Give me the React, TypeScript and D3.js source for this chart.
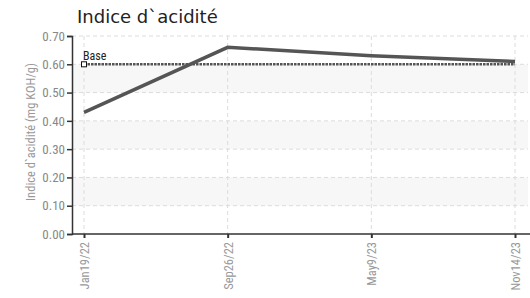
import React, { useEffect, useRef } from "react";
import * as d3 from "d3";

const categories = ["Jan19/22", "Sep26/22", "May9/23", "Nov14/23"];
const values = [0.43, 0.66, 0.63, 0.61];
const baseValue = 0.6;
const yTicks = [0, 0.1, 0.2, 0.3, 0.4, 0.5, 0.6, 0.7];
const bands = [
  [0.5, 0.6],
  [0.3, 0.4],
  [0.1, 0.2],
];

const width = 530;
const height = 298;
const margin = { top: 36, right: 0, bottom: 64, left: 72 };
const narrow = "'Liberation Sans Narrow', 'Roboto Condensed', Roboto, sans-serif";

const App = () => {
  const ref = useRef<SVGSVGElement>(null);

  useEffect(() => {
    const svg = d3.select(ref.current);
    svg.selectAll("*").remove();

    const x = d3
      .scalePoint()
      .domain(categories)
      .range([84, 515]);
    const y = d3
      .scaleLinear()
      .domain([0, 0.7])
      .range([height - margin.bottom, margin.top]);

    const plotRight = width - margin.right - 2;

    // bands
    svg
      .append("g")
      .selectAll("rect")
      .data(bands)
      .join("rect")
      .attr("x", margin.left)
      .attr("width", plotRight - margin.left)
      .attr("y", (d) => y(d[1]))
      .attr("height", (d) => y(d[0]) - y(d[1]))
      .attr("fill", "#f7f7f7");

    // horizontal grid
    svg
      .append("g")
      .selectAll("line")
      .data(yTicks.slice(1))
      .join("line")
      .attr("x1", margin.left)
      .attr("x2", plotRight)
      .attr("y1", (d) => y(d))
      .attr("y2", (d) => y(d))
      .attr("stroke", "#dcdcdc")
      .attr("stroke-dasharray", "4,3");

    // vertical grid
    svg
      .append("g")
      .selectAll("line")
      .data(categories)
      .join("line")
      .attr("x1", (d) => x(d)!)
      .attr("x2", (d) => x(d)!)
      .attr("y1", y(0.7))
      .attr("y2", y(0))
      .attr("stroke", "#dcdcdc")
      .attr("stroke-dasharray", "4,3");

    // base line
    svg
      .append("line")
      .attr("x1", x(categories[0])!)
      .attr("x2", x(categories[categories.length - 1])!)
      .attr("y1", y(baseValue))
      .attr("y2", y(baseValue))
      .attr("stroke", "#555")
      .attr("stroke-width", 2.5)
      .attr("stroke-dasharray", "2.5,1");
    svg
      .append("rect")
      .attr("x", x(categories[0])! - 2.5)
      .attr("y", y(baseValue) - 2.5)
      .attr("width", 5)
      .attr("height", 5)
      .attr("fill", "#fff")
      .attr("stroke", "#111")
      .attr("stroke-width", 1);
    svg
      .append("text")
      .attr("x", x(categories[0])! - 1)
      .attr("y", y(baseValue) - 4)
      .attr("font-family", narrow)
      .attr("font-size", 12)
      .attr("fill", "#222")
      .text("Base");

    // series line
    const line = d3
      .line<number>()
      .x((d, i) => x(categories[i])!)
      .y((d) => y(d));
    svg
      .append("path")
      .datum(values)
      .attr("d", line)
      .attr("fill", "none")
      .attr("stroke", "#555")
      .attr("stroke-width", 3.5);

    // y axis
    const yAxis = svg
      .append("g")
      .attr("transform", `translate(${margin.left},0)`)
      .call(
        d3
          .axisLeft(y)
          .tickValues(yTicks)
          .tickSize(5)
          .tickPadding(2)
          .tickFormat(d3.format(".2f"))
      );
    yAxis.select(".domain").attr("stroke", "#333").attr("stroke-width", 1.5);
    yAxis.selectAll(".tick line").attr("stroke", "#333").attr("stroke-width", 1.5);
    yAxis
      .selectAll(".tick text")
      .attr("fill", "#888")
      .attr("font-family", narrow)
      .attr("font-size", 13);

    // x axis
    const xAxis = svg
      .append("g")
      .attr("transform", `translate(0,${y(0)})`)
      .call(d3.axisBottom(x).tickSize(4).tickPadding(6));
    xAxis
      .select(".domain")
      .attr("d", `M${margin.left},0H${width}`)
      .attr("stroke", "#333")
      .attr("stroke-width", 1.5);
    xAxis.selectAll(".tick line").attr("stroke", "#333").attr("stroke-width", 2);
    xAxis
      .selectAll(".tick text")
      .attr("fill", "#999")
      .attr("font-family", narrow)
      .attr("font-size", 12.5)
      .attr("text-anchor", "end")
      .attr("dy", "0.35em")
      .attr("transform", "rotate(-90)")
      .attr("y", 0)
      .attr("x", -8);

    // y label
    svg
      .append("text")
      .attr("transform", `translate(35,132) rotate(-90)`)
      .attr("text-anchor", "middle")
      .attr("font-family", narrow)
      .attr("font-size", 12.5)
      .attr("fill", "#999")
      .text("Indice d`acidité (mg KOH/g)");

    // title
    svg
      .append("text")
      .attr("x", 77)
      .attr("y", 23)
      .attr("font-family", "'DejaVu Sans', sans-serif")
      .attr("font-size", 18)
      .attr("fill", "#222")
      .text("Indice d`acidité");
  }, []);

  return (
    <svg
      ref={ref}
      width={width}
      height={height}
      style={{ position: "absolute", left: 0, top: 0, background: "#fff" }}
    ></svg>
  );
};

export default App;
